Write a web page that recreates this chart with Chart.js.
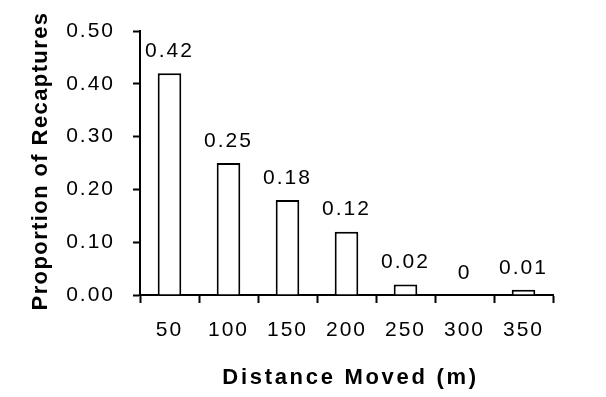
<!DOCTYPE html>
<html>
<head>
<meta charset="utf-8">
<script src="https://cdn.jsdelivr.net/npm/chart.js@4/dist/chart.umd.min.js"></script>
<style>
  html, body { margin: 0; padding: 0; background: #fff; }
  #wrap { width: 606px; height: 397px; }
</style>
</head>
<body>
<div id="wrap"><canvas id="recaptureChart" width="606" height="397"></canvas></div>
<script>
// distance classes (m) and proportion of recaptures
const distances = ["50", "100", "150", "200", "250", "300", "350"];
const proportions = [0.42, 0.25, 0.18, 0.12, 0.02, 0, 0.01];
const yTicks = [0, 0.1, 0.2, 0.3, 0.4, 0.5];
const xTitle = "Distance Moved (m)";
const yTitle = "Proportion of Recaptures";

const FONT = "'Liberation Sans', Arial, sans-serif";

// the old figure has wide letter spacing on all its text
const spacing = {
  id: "spacing",
  beforeDraw(chart) { chart.ctx.letterSpacing = "2px"; }
};

// value labels above each bar
const barLabels = {
  id: "barLabels",
  afterDatasetsDraw(chart) {
    const ctx = chart.ctx;
    const meta = chart.getDatasetMeta(0);
    ctx.save();
    ctx.letterSpacing = "2px";
    ctx.font = "21px " + FONT;
    ctx.fillStyle = "#000";
    ctx.textAlign = "center";
    ctx.textBaseline = "middle";
    meta.data.forEach((bar, i) => {
      ctx.fillText(String(proportions[i]), bar.x, bar.y - 22);
    });
    ctx.restore();
  }
};

// axis titles (drawn by hand so letter spacing can be used)
const axisTitles = {
  id: "axisTitles",
  afterDraw(chart) {
    const ctx = chart.ctx;
    const area = chart.chartArea;
    ctx.save();
    ctx.fillStyle = "#000";
    ctx.font = "bold 22px " + FONT;
    ctx.textAlign = "center";
    ctx.textBaseline = "alphabetic";
    ctx.letterSpacing = "2.7px";
    ctx.fillText(xTitle, (area.left + area.right) / 2 + 4, 384);
    ctx.letterSpacing = "1.4px";
    ctx.translate(47, (area.top + area.bottom) / 2 - 2);
    ctx.rotate(-Math.PI / 2);
    ctx.fillText(yTitle, 0, 0);
    ctx.restore();
  }
};

new Chart(document.getElementById("recaptureChart"), {
  type: "bar",
  data: {
    labels: distances,
    datasets: [{
      data: proportions,
      backgroundColor: "#fff",
      borderColor: "#000",
      borderWidth: 2,
      barPercentage: 0.4,
      categoryPercentage: 1
    }]
  },
  options: {
    responsive: false,
    animation: false,
    layout: { padding: { left: 0, right: 53, top: 31, bottom: 0 } },
    plugins: {
      legend: { display: false },
      tooltip: { enabled: false }
    },
    scales: {
      x: {
        afterFit: s => { s.height = 102; },
        grid: {
          display: true, drawOnChartArea: false, drawTicks: true,
          tickLength: 8, tickWidth: 2, tickColor: "#000", offset: true
        },
        border: { display: true, color: "#000", width: 2 },
        ticks: { color: "#000", font: { family: FONT, size: 21 }, padding: 15 }
      },
      y: {
        min: 0, max: 0.5,
        afterFit: s => { s.width = 140; },
        afterBuildTicks: s => { s.ticks = yTicks.map(v => ({ value: v })); },
        grid: {
          display: true, drawOnChartArea: false, drawTicks: true,
          tickLength: 7, tickWidth: 2, tickColor: "#000"
        },
        border: { display: true, color: "#000", width: 2 },
        ticks: {
          color: "#000", font: { family: FONT, size: 21 }, padding: 18,
          callback: v => Number(v).toFixed(2)
        }
      }
    }
  },
  plugins: [spacing, barLabels, axisTitles]
});
</script>
</body>
</html>
